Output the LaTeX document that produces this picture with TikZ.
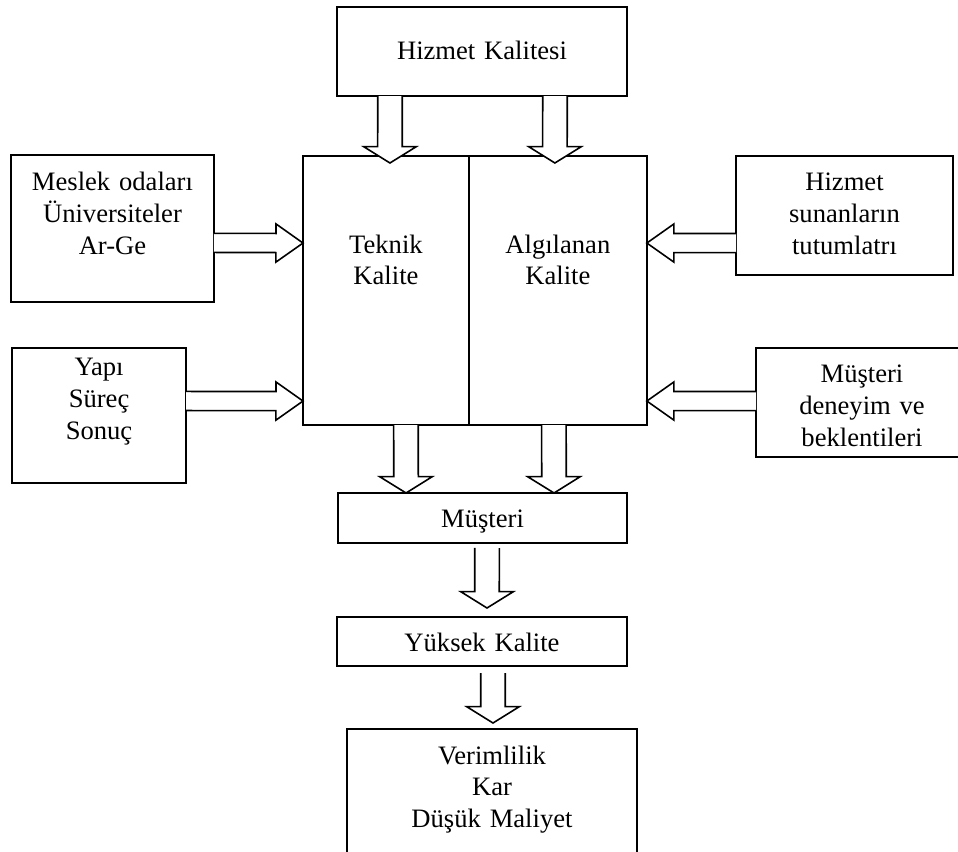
\documentclass[tikz,border=0pt]{standalone}
\usepackage{fontspec}
\setmainfont{Liberation Serif}
\usetikzlibrary{calc,positioning}
\tikzset{
  qbox/.style n args={3}{draw, line width=0.7pt, rectangle, inner sep=0pt, outer sep=0pt, align=center,
    text width=#1, text height=#2, text depth=#3, font=\fontsize{11.7}{14}\selectfont},
  blockarrow/.style n args={3}{draw, line width=0.7pt, fill=white, line join=miter,
    to path={let \p1=(\tikztostart), \p2=(\tikztotarget),
      \n0={veclen(\x2-\x1,\y2-\y1)}, \n1={(\x2-\x1)/\n0}, \n2={(\y2-\y1)/\n0} in
      ({\x1-(\n2)*#1},{\y1+(\n1)*#1})
      -- ({\x2-(\n1)*#3-(\n2)*#1},{\y2-(\n2)*#3+(\n1)*#1})
      -- ({\x2-(\n1)*#3-(\n2)*#2},{\y2-(\n2)*#3+(\n1)*#2})
      -- (\p2)
      -- ({\x2-(\n1)*#3+(\n2)*#2},{\y2-(\n2)*#3-(\n1)*#2})
      -- ({\x2-(\n1)*#3+(\n2)*#1},{\y2-(\n2)*#3-(\n1)*#1})
      -- ({\x1+(\n2)*#1},{\y1-(\n1)*#1})}},
  varrow/.style={blockarrow={5.4pt}{11.6pt}{7.2pt}},
  harrow/.style={blockarrow={4.2pt}{8.4pt}{11.9pt}}
}

\begin{document}
\begin{tikzpicture}[x=0.44pt, y=-0.44pt]
  \useasboundingbox (0,0) rectangle (958,852);

  \node [qbox={127.6pt}{22.9pt}{16.3pt}, anchor=north west] (kalite) at (337,7) {Hizmet Kalitesi};
  \node [qbox={73pt}{42.7pt}{75.7pt}, anchor=north west] (teknik) at (303,156) {Teknik\\Kalite};
  \node [qbox={78.3pt}{42.7pt}{75.7pt}, right=0pt of teknik] (algi) {Algılanan\\Kalite};
  \node [qbox={89.3pt}{15.8pt}{48.8pt}, anchor=north west] (meslek) at (11,155) {Meslek odaları\\Üniversiteler\\Ar-Ge};
  \node [qbox={76.6pt}{12.3pt}{47.1pt}, anchor=north west] (yapi) at (12,348) {Yapı\\Süreç\\Sonuç};
  \node [qbox={95.5pt}{15.4pt}{37pt}, anchor=north west] (sunan) at (736,156) {Hizmet\\sunanların\\tutumlatrı};
  \node [qbox={93.3pt}{15.4pt}{32.6pt}, anchor=north west] (beklenti) at (756,348) {Müşteri\\deneyim ve\\beklentileri};
  \node [qbox={127.2pt}{15.4pt}{6.6pt}, anchor=north west] (musteri) at (338,493) {Müşteri};
  \node [qbox={127.6pt}{15pt}{6.6pt}, anchor=north west] (yuksek) at (337,617) {Yüksek Kalite};
  \node [qbox={127.6pt}{15.4pt}{51pt}, anchor=north west] (verim) at (347,729) {Verimlilik\\Kar\\Düşük Maliyet};

  \draw [varrow] ($(kalite.south)+(-92,0)$) to ($(teknik.north)+(4,7)$);
  \draw [varrow] ($(kalite.south)+(73,0)$) to ($(algi.north)+(-3,7)$);
  \draw [harrow] ($(meslek.east)+(0,14.5)$) to ($(teknik.west)+(0,-47.5)$);
  \draw [harrow] ($(yapi.east)+(0,-14.5)$) to ($(teknik.west)+(0,110.5)$);
  \draw [harrow] ($(sunan.west)+(0,27.5)$) to ($(algi.east)+(0,-47.5)$);
  \draw [harrow] ($(beklenti.west)+(0,-1.5)$) to ($(algi.east)+(0,110.5)$);
  \draw [varrow] ($(teknik.south)+(20,0)$) to ($(musteri.north)+(-76.5,0)$);
  \draw [varrow] ($(algi.south)+(-4,0)$) to ($(musteri.north)+(71.5,0)$);
  \draw [varrow] ($(musteri.south)+(4.5,5)$) to ($(yuksek.north)+(5,-9)$);
  \draw [varrow] ($(yuksek.south)+(11,7)$) to ($(verim.north)+(1,-6)$);
\end{tikzpicture}
\end{document}
